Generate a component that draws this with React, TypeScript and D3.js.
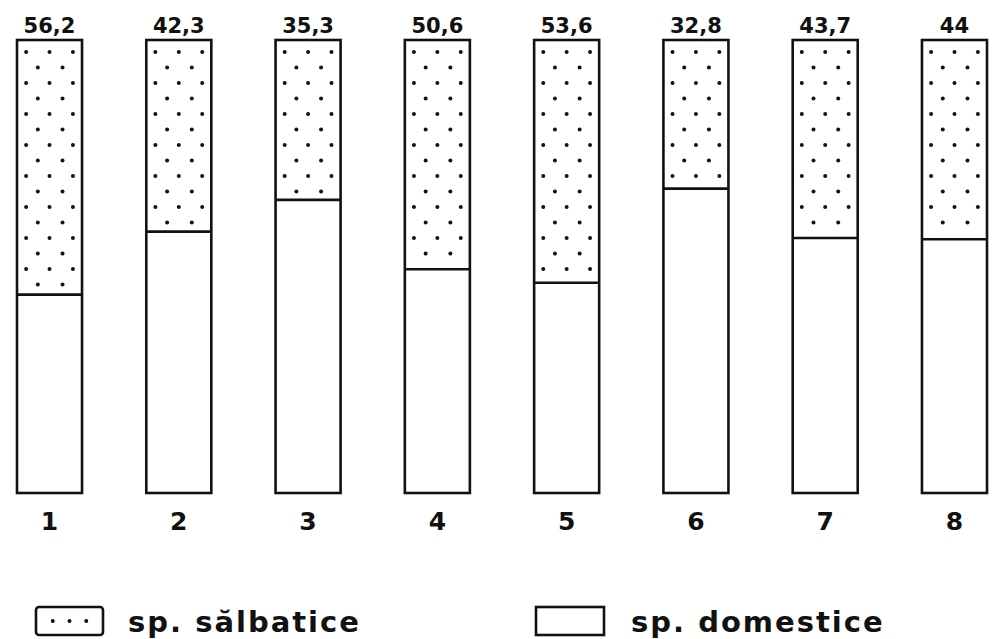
import React from "react";
import * as d3 from "d3";

const categories = ["1", "2", "3", "4", "5", "6", "7", "8"];
const wildValues = [56.2, 42.3, 35.3, 50.6, 53.6, 32.8, 43.7, 44];
const valueLabels = ["56,2", "42,3", "35,3", "50,6", "53,6", "32,8", "43,7", "44"];
const legendLabels = ["sp. sălbatice", "sp. domestice"];

const W = 995;
const H = 639;

export default function App() {
  const x = d3.scaleBand<string>().domain(categories).range([17, 987]).paddingInner(0.497).paddingOuter(0);
  const y = d3.scaleLinear().domain([0, 100]).range([493, 40]);
  const bw = x.bandwidth();

  const font = "'DejaVu Sans', sans-serif";

  return (
    <svg width={W} height={H} style={{ position: "absolute", left: 0, top: 0, background: "#fff" }}>
      <rect x={0} y={0} width={W} height={H} fill="#fff" />
      {categories.map((c, i) => {
        const x0 = x(c)!;
        const top = y(100);
        const div = y(100 - wildValues[i]);
        const bot = y(0);
        const dots: JSX.Element[] = [];
        let row = 0;
        for (let yy = top + 12; yy < div - 6; yy += 15.5) {
          const cols = row % 2 === 0 ? [0.14, 0.5, 0.86] : [0.32, 0.7];
          cols.forEach((f, k) => {
            dots.push(<circle key={`${row}-${k}`} cx={x0 + f * bw} cy={yy} r={2} fill="#111" />);
          });
          row++;
        }
        return (
          <g key={c}>
            {dots}
            <rect x={x0} y={top} width={bw} height={bot - top} fill="none" stroke="#111" strokeWidth={2.6} />
            <line x1={x0} x2={x0 + bw} y1={div} y2={div} stroke="#111" strokeWidth={2.6} />
            <text x={x0 + bw / 2} y={33} textAnchor="middle" fontFamily={font} fontWeight={600} fontSize={21} fill="#111">
              {valueLabels[i]}
            </text>
            <text x={x0 + bw / 2} y={530} textAnchor="middle" fontFamily={font} fontWeight="bold" fontSize={25} fill="#111">
              {c}
            </text>
          </g>
        );
      })}
      {/* legend */}
      <g>
        <rect x={36} y={607} width={67} height={28} rx={3} fill="none" stroke="#111" strokeWidth={2.6} />
        {[0.25, 0.5, 0.75].map((f) => (
          <circle key={f} cx={36 + f * 67} cy={621} r={2} fill="#111" />
        ))}
        <text x={128} y={632} fontFamily={font} fontWeight="bold" fontSize={29} letterSpacing={2} fill="#111">
          {legendLabels[0]}
        </text>
        <rect x={536} y={607} width={68} height={28} fill="none" stroke="#111" strokeWidth={2.6} />
        <text x={631} y={632} fontFamily={font} fontWeight="bold" fontSize={29} letterSpacing={2} fill="#111">
          {legendLabels[1]}
        </text>
      </g>
    </svg>
  );
}
